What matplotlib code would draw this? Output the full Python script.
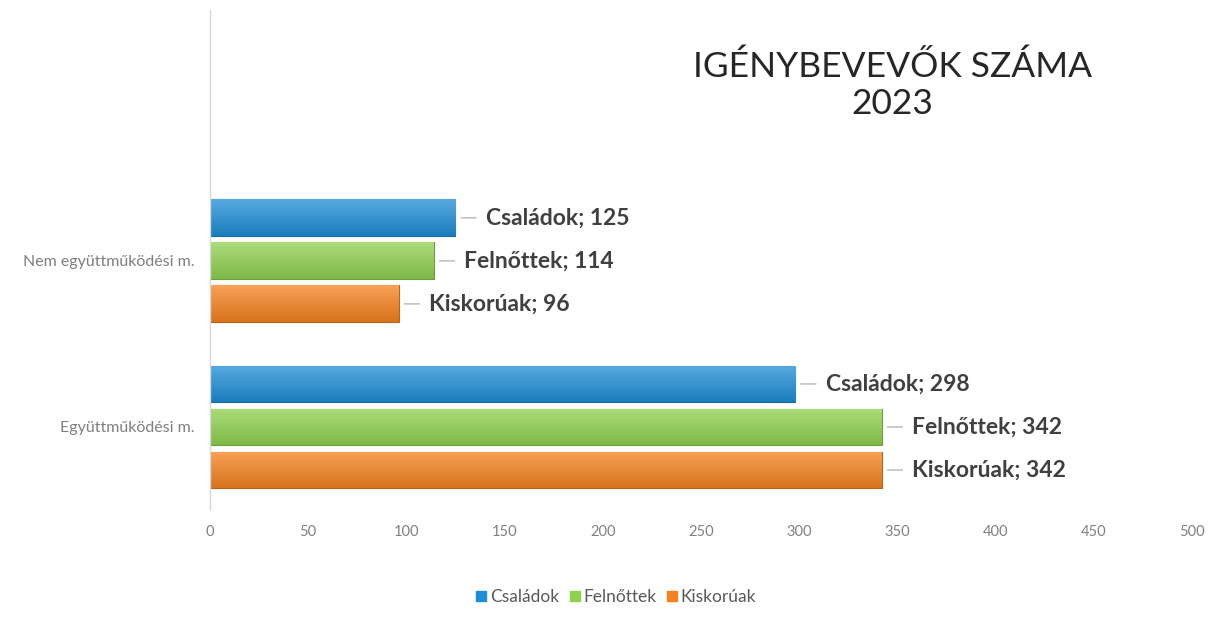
import numpy as np
import matplotlib
matplotlib.use("Agg")
import matplotlib.pyplot as plt
from matplotlib.colors import to_rgb

# data
categories = ["Együttműködési m.", "Nem együttműködési m."]
series = ["Családok", "Felnőttek", "Kiskorúak"]
csaladok = [298, 125]
felnottek = [342, 114]
kiskoruak = [342, 96]
x_ticks = [0, 50, 100, 150, 200, 250, 300, 350, 400, 450, 500]

colors = ["#1f8ed6", "#8fd14f", "#f58220"]
plt.rcParams["font.family"] = ["Lato", "DejaVu Sans"]


def shade(c, f):
    r, g, b = to_rgb(c)
    if f > 0:
        return (r + (1 - r) * f, g + (1 - g) * f, b + (1 - b) * f)
    return (r * (1 + f), g * (1 + f), b * (1 + f))


fig = plt.figure(figsize=(12.11, 6.32), dpi=100)
ax = fig.add_axes([0.1734, 0.193, 0.8109, 0.791])

y = np.arange(len(categories))
step = 0.259
bh = 0.222
vals = [csaladok, felnottek, kiskoruak]
offsets = [step, 0, -step]

for name, v, off, col in zip(series, vals, offsets, colors):
    bars = ax.barh(y + off, v, height=bh, color=col, edgecolor=shade(col, -0.25),
                   linewidth=0.8, label=name, zorder=2)
    for b, val in zip(bars, v):
        bx, by = b.get_x(), b.get_y()
        bw, bhh = b.get_width(), b.get_height()
        # vertical gradient for the glossy look
        grad = np.linspace(0, 1, 64).reshape(-1, 1)
        top = np.array(shade(col, 0.25))
        bot = np.array(shade(col, -0.12))
        img = bot + (top - bot) * grad[..., None]
        img = np.repeat(img, 2, axis=1)
        im = ax.imshow(img, extent=[bx, bx + bw, by, by + bhh], origin="lower",
                       aspect="auto", zorder=2.5, interpolation="bilinear")
        im.set_clip_path(b)
        ax.annotate(f"{name}; {val}", xy=(val, by + bhh / 2),
                    xytext=(22, 0), textcoords="offset points",
                    va="center", ha="left", fontsize=16.5, fontweight="bold",
                    color="#404040",
                    arrowprops=dict(arrowstyle="-", color="#a6a6a6", lw=0.8,
                                    shrinkA=5, shrinkB=4))

ax.set_xlim(0, 500)
ax.set_ylim(-0.5, 2.51)
ax.set_xticks(x_ticks)
ax.set_xticklabels([str(t) for t in x_ticks], fontsize=10.5, color="#808080")
ax.set_yticks(y)
ax.set_yticklabels(categories, fontsize=11.5, color="#7f7f7f")
ax.tick_params(length=0, axis="x", pad=11)
ax.tick_params(length=0, axis="y", pad=11)
for s in ["top", "right", "bottom"]:
    ax.spines[s].set_visible(False)
ax.spines["left"].set_color("#d9d9d9")
ax.spines["left"].set_linewidth(1)

fig.text(0.737, 0.865, "IGÉNYBEVEVŐK SZÁMA\n2023", ha="center", va="center",
         fontsize=25.5, color="#262626", linespacing=1.2)

handles = [plt.Line2D([], [], marker="s", linestyle="", color=c, markersize=7)
           for c in colors]
fig.legend(handles, series, loc="center", bbox_to_anchor=(0.508, 0.055),
           ncol=3, frameon=False, fontsize=12.5, labelcolor="#595959",
           handletextpad=0.1, columnspacing=0.5, handlelength=0.8)

fig.savefig("out.png", dpi=100, facecolor="white")
